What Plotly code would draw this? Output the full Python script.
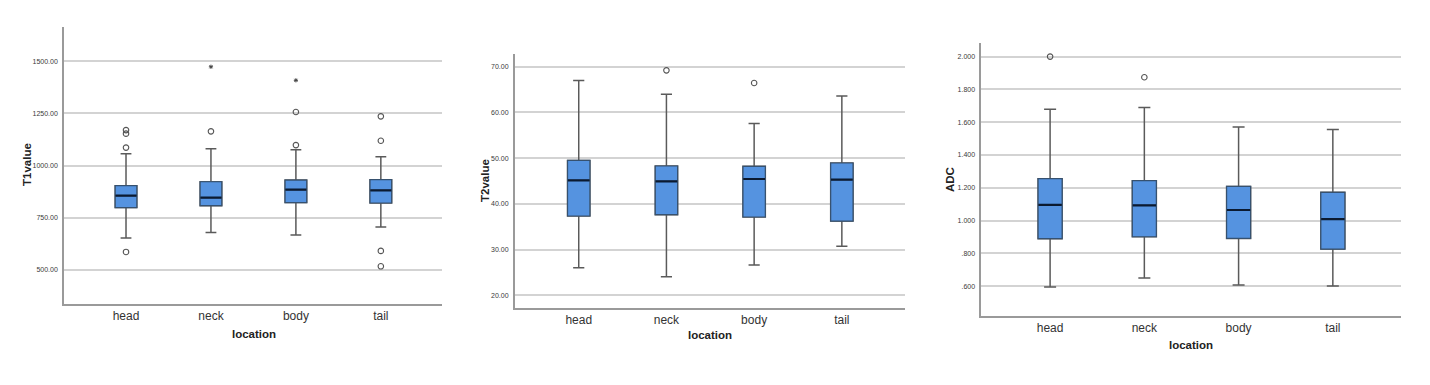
import plotly.graph_objects as go

categories = ["head", "neck", "body", "tail"]

# T1 value
t1_lo = [652, 678, 666, 705]
t1_q1 = [798, 807, 822, 820]
t1_med = [855, 846, 884, 881]
t1_q3 = [903, 922, 930, 932]
t1_hi = [1057, 1081, 1076, 1042]
t1_out_cat = ["head", "head", "head", "head", "neck", "body", "body", "tail", "tail", "tail", "tail"]
t1_out_val = [1170, 1153, 1086, 585, 1164, 1098, 1257, 1119, 1236, 590, 516]
t1_ext_cat = ["neck", "body"]
t1_ext_val = [1474, 1409]
t1_ticks = [500, 750, 1000, 1250, 1500]
t1_ticktext = ["500.00", "750.00", "1000.00", "1250.00", "1500.00"]

# T2 value
t2_lo = [26.05, 24.08, 26.63, 30.71]
t2_q1 = [37.35, 37.64, 37.13, 36.25]
t2_med = [45.15, 44.93, 45.44, 45.29]
t2_q3 = [49.5, 48.28, 48.2, 48.94]
t2_hi = [67.0, 63.95, 57.6, 63.59]
t2_out_cat = ["neck", "body"]
t2_out_val = [69.2, 66.43]
t2_ticks = [20, 30, 40, 50, 60, 70]
t2_ticktext = ["20.00", "30.00", "40.00", "50.00", "60.00", "70.00"]

# ADC
adc_lo = [0.596, 0.650, 0.608, 0.602]
adc_q1 = [0.890, 0.902, 0.892, 0.827]
adc_med = [1.096, 1.093, 1.065, 1.010]
adc_q3 = [1.256, 1.244, 1.209, 1.173]
adc_hi = [1.679, 1.689, 1.571, 1.555]
adc_out_cat = ["head", "neck"]
adc_out_val = [2.0, 1.874]
adc_ticks = [0.6, 0.8, 1.0, 1.2, 1.4, 1.6, 1.8, 2.0]
adc_ticktext = [".600", ".800", "1.000", "1.200", "1.400", "1.600", "1.800", "2.000"]

BOX_FILL = "#5593E0"
BOX_LINE = "#36516F"
WHISK = "#5A5A5A"
MED = "#0B1A30"
GRID = "#D3D3D3"
AXIS = "#9A9A9A"
FONT = "Liberation Sans"
BW = 0.255

fig = go.Figure()


def add_panel(xa, ya, lo, q1, med, q3, hi, out_cat, out_val, ext_cat=None, ext_val=None):
    # whiskers
    fig.add_trace(go.Box(x=categories, q1=q1, median=med, q3=q3, lowerfence=lo, upperfence=hi,
                         xaxis=xa, yaxis=ya, width=BW, whiskerwidth=0.5,
                         fillcolor="rgba(0,0,0,0)", line=dict(color=WHISK, width=1.5),
                         showlegend=False, hoverinfo="skip"))
    # box body
    fig.add_trace(go.Box(x=categories, q1=q1, median=med, q3=q3, lowerfence=q1, upperfence=q3,
                         xaxis=xa, yaxis=ya, width=BW, whiskerwidth=0,
                         fillcolor=BOX_FILL, line=dict(color=BOX_LINE, width=1.2),
                         showlegend=False))
    # median
    fig.add_trace(go.Box(x=categories, q1=med, median=med, q3=med, lowerfence=med, upperfence=med,
                         xaxis=xa, yaxis=ya, width=BW * 0.97, whiskerwidth=0,
                         fillcolor="rgba(0,0,0,0)", line=dict(color=MED, width=2.2),
                         showlegend=False, hoverinfo="skip"))
    fig.add_trace(go.Scatter(x=out_cat, y=out_val, mode="markers", xaxis=xa, yaxis=ya,
                             marker=dict(symbol="circle-open", size=5.5, color="#555555",
                                         line=dict(width=1.1, color="#555555")),
                             showlegend=False))
    if ext_cat:
        fig.add_trace(go.Scatter(x=ext_cat, y=ext_val, mode="markers", xaxis=xa, yaxis=ya,
                                 marker=dict(symbol="asterisk-open", size=3.5, color="#444444",
                                             line=dict(width=1, color="#444444")),
                                 showlegend=False))


add_panel("x", "y", t1_lo, t1_q1, t1_med, t1_q3, t1_hi, t1_out_cat, t1_out_val, t1_ext_cat, t1_ext_val)
add_panel("x2", "y2", t2_lo, t2_q1, t2_med, t2_q3, t2_hi, t2_out_cat, t2_out_val)
add_panel("x3", "y3", adc_lo, adc_q1, adc_med, adc_q3, adc_hi, adc_out_cat, adc_out_val)

W, H = 1430, 385
panels = [
    # (x0, x1, ytop, ybottom, yrange, ticks, ticktext)
    (64, 442, 27, 304, [335, 1665], t1_ticks, t1_ticktext),
    (514.7, 905, 54, 307.7, [17.3, 72.77], t2_ticks, t2_ticktext),
    (981.3, 1400.7, 43.3, 316, [0.419, 2.081], adc_ticks, adc_ticktext),
]

layout = dict(width=W, height=H, margin=dict(l=0, r=0, t=0, b=0, autoexpand=False),
              paper_bgcolor="white", plot_bgcolor="white", boxmode="overlay",
              font=dict(family=FONT, color="#333333"))
for i, (x0, x1, yt, yb, yr, tv, tt) in enumerate(panels):
    sfx = "" if i == 0 else str(i + 1)
    layout["xaxis" + sfx] = dict(domain=[x0 / W, x1 / W], anchor="y" + sfx, type="category",
                                 categoryorder="array", categoryarray=categories,
                                 range=[-0.73, 3.72], showgrid=False, zeroline=False,
                                 automargin=False,
                                 showline=True, linecolor=AXIS, linewidth=1.5, ticks="",
                                 tickfont=dict(size=12, color="#333333", family=FONT))
    layout["yaxis" + sfx] = dict(domain=[1 - yb / H, 1 - yt / H], anchor="x" + sfx,
                                 range=yr, tickvals=tv, ticktext=tt, showgrid=True,
                                 automargin=False,
                                 gridcolor=GRID, gridwidth=1.5, zeroline=False,
                                 showline=True, linecolor=AXIS, linewidth=1.5, ticks="",
                                 ticklabelstandoff=3,
                                 tickfont=dict(size=7, color="#3A3A3A", family=FONT))
fig.update_layout(**layout)

annos = [
    ("location", 254, 334, 0), ("location", 710, 335, 0), ("location", 1191, 345, 0),
    ("T1value", 27, 165, -90), ("T2value", 485, 181, -90), ("ADC", 950, 180, -90),
]
for text, px, py, ang in annos:
    fig.add_annotation(text="<b>" + text + "</b>", x=px / W, y=1 - py / H, xref="paper", yref="paper",
                       showarrow=False, textangle=ang, xanchor="center", yanchor="middle",
                       font=dict(size=11.5, color="#222222", family=FONT))

fig.write_html("out.html", config={"displayModeBar": False},
               post_script="document.body.style.margin='0';document.body.style.overflow='hidden';")
